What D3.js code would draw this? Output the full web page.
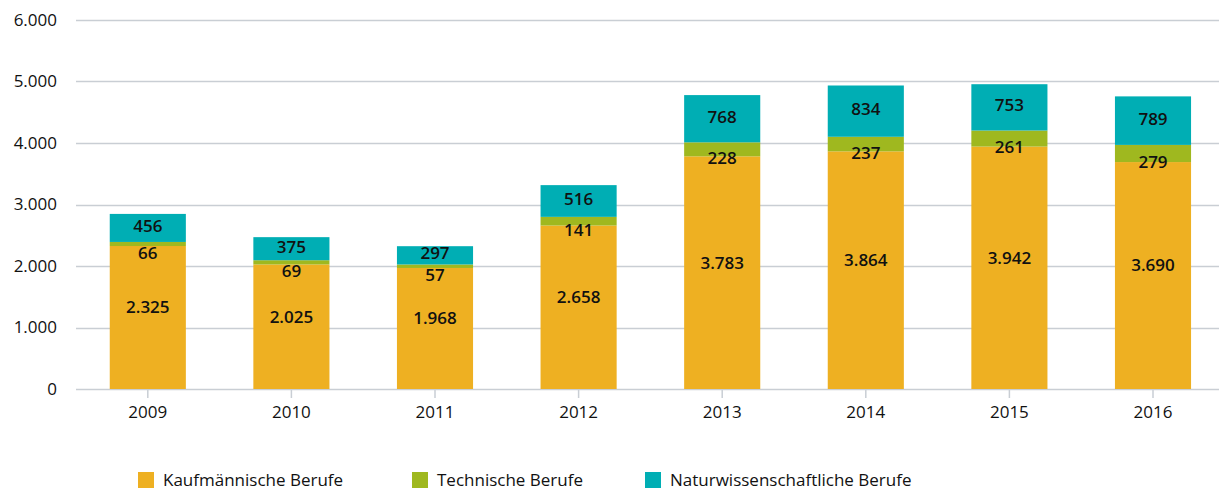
<!DOCTYPE html>
<html>
<head>
<meta charset="utf-8">
<script src="https://cdn.jsdelivr.net/npm/d3@7"></script>
<style>
  body { margin: 0; background: #fff; }
  text { font-family: "Open Sans", "Noto Sans", sans-serif; fill: #111; }
</style>
</head>
<body>
<div id="chart"></div>
<script>
var years = ["2009", "2010", "2011", "2012", "2013", "2014", "2015", "2016"];
var kaufmaennisch = [2325, 2025, 1968, 2658, 3783, 3864, 3942, 3690];
var technisch = [66, 69, 57, 141, 228, 237, 261, 279];
var naturwiss = [456, 375, 297, 516, 768, 834, 753, 789];
var seriesNames = ["Kaufmännische Berufe", "Technische Berufe", "Naturwissenschaftliche Berufe"];
var seriesColors = ["#eeb022", "#9fb81f", "#00aeb4"];
var yTicks = [0, 1000, 2000, 3000, 4000, 5000, 6000];

var width = 1219, height = 494;
var margin = { top: 20, left: 76, bottom: 105 };
var plotBottom = height - margin.bottom; // 389

var svg = d3.select("#chart").append("svg")
    .attr("width", width)
    .attr("height", height);

var x = d3.scaleBand()
    .domain(years)
    .range([margin.left, margin.left + 8 * 143.6])
    .paddingInner(0.47)
    .paddingOuter(0.235);

var y = d3.scaleLinear()
    .domain([0, 6000])
    .range([plotBottom, margin.top]);

var fmt = d3.formatLocale({ decimal: ",", thousands: ".", grouping: [3], currency: ["", "€"] }).format(",d");

// gridlines
svg.append("g")
    .selectAll("line")
    .data(yTicks)
    .enter()
    .append("line")
    .attr("x1", margin.left)
    .attr("x2", width)
    .attr("y1", d => Math.round(y(d)) + 0.5)
    .attr("y2", d => Math.round(y(d)) + 0.5)
    .attr("stroke", "#c9ced4")
    .attr("stroke-width", 1.5);

// y labels
svg.append("g")
    .selectAll("text")
    .data(yTicks)
    .enter()
    .append("text")
    .attr("x", 57)
    .attr("y", d => y(d))
    .attr("dy", "0.35em")
    .attr("text-anchor", "end")
    .attr("font-size", 17)
    .text(d => fmt(d));

// x axis ticks and labels
var xAxis = svg.append("g")
    .attr("transform", "translate(0," + plotBottom + ")")
    .call(d3.axisBottom(x).tickSize(9).tickPadding(8));
xAxis.select(".domain").remove();
xAxis.selectAll(".tick line").attr("stroke", "#c9ced4").attr("stroke-width", 1.5);
xAxis.selectAll(".tick text")
    .attr("font-size", 17)
    .attr("font-family", "Open Sans, Noto Sans, sans-serif")
    .attr("fill", "#111");

// stacked data
var rows = years.map((yr, i) => ({ year: yr, k: kaufmaennisch[i], t: technisch[i], n: naturwiss[i] }));
var stack = d3.stack().keys(["k", "t", "n"]);
var layers = stack(rows);

var layerG = svg.append("g")
    .selectAll("g")
    .data(layers)
    .enter()
    .append("g")
    .attr("fill", (d, i) => seriesColors[i]);

layerG.selectAll("rect")
    .data(d => d)
    .enter()
    .append("rect")
    .attr("x", d => x(d.data.year))
    .attr("y", d => y(d[1]))
    .attr("width", x.bandwidth())
    .attr("height", d => y(d[0]) - y(d[1]));

// value labels
var labelOffsets = [-10, 9, -2];
layers.forEach(function(layer, li) {
    svg.append("g")
        .selectAll("text")
        .data(layer)
        .enter()
        .append("text")
        .attr("x", d => x(d.data.year) + x.bandwidth() / 2)
        .attr("y", d => (y(d[0]) + y(d[1])) / 2 + labelOffsets[li])
        .attr("dy", "0.35em")
        .attr("text-anchor", "middle")
        .attr("font-size", 17)
        .attr("font-weight", 600)
        .text(d => fmt(d[1] - d[0]));
});

// legend
var legendX = [138, 412, 645];
var legend = svg.append("g")
    .selectAll("g")
    .data(seriesNames)
    .enter()
    .append("g")
    .attr("transform", (d, i) => "translate(" + legendX[i] + ",472)");
legend.append("rect")
    .attr("width", 16)
    .attr("height", 16)
    .attr("fill", (d, i) => seriesColors[i]);
legend.append("text")
    .attr("x", 25)
    .attr("y", 8)
    .attr("dy", "0.35em")
    .attr("font-size", 17)
    .text(d => d);
</script>
</body>
</html>
